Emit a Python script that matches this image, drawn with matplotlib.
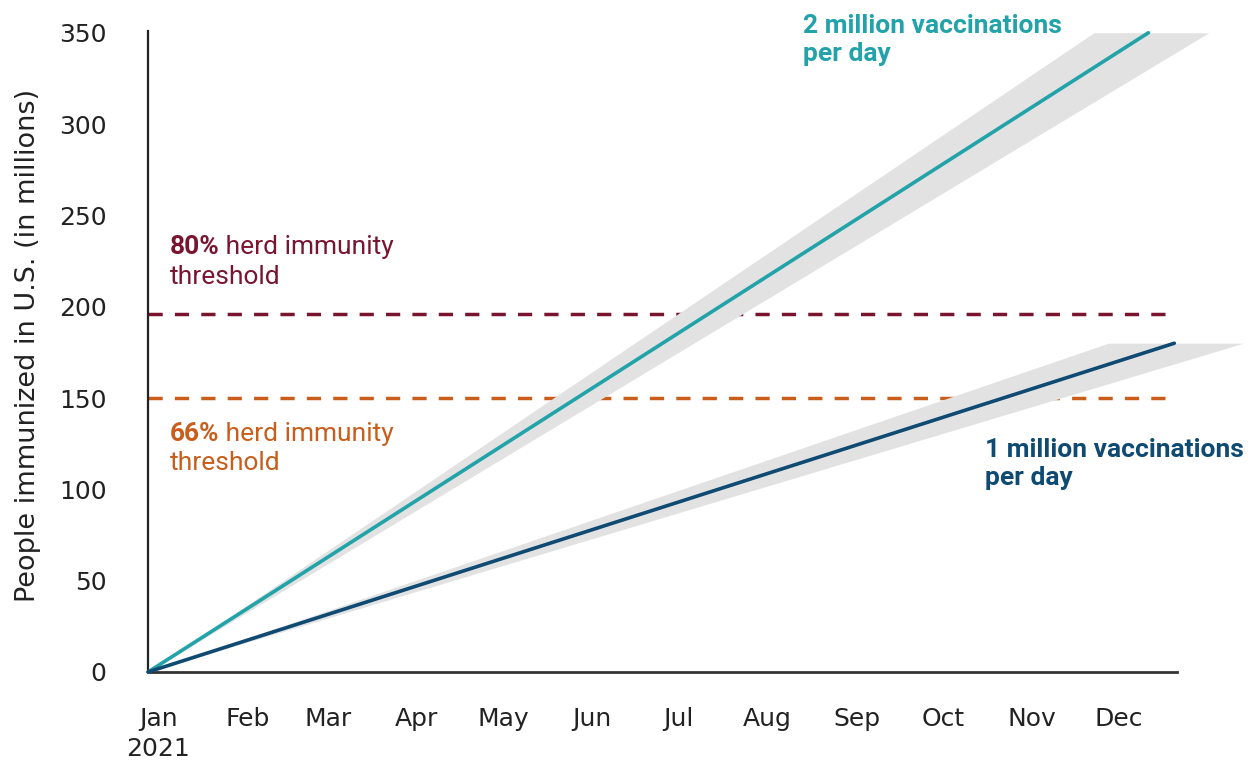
import numpy as np
import matplotlib.pyplot as plt

# days since Jan 1 2021 vs people immunized (millions)
days_2m = [0, 348]
people_2m = [0, 350]
band_2m_lo = [0, 329]
band_2m_hi = [0, 369]

days_1m = [0, 357]
people_1m = [0, 180]
band_1m_lo = [0, 334]
band_1m_hi = [0, 381]

threshold_80 = 196
threshold_66 = 150

months = ['Jan\n2021', 'Feb', 'Mar', 'Apr', 'May', 'Jun',
          'Jul', 'Aug', 'Sep', 'Oct', 'Nov', 'Dec']
month_start = [0, 31, 59, 90, 120, 151, 181, 212, 243, 273, 304, 334]

teal = '#22a2a9'
navy = '#0f4a73'
maroon = '#7a1530'
orange = '#c95e1c'
band = '#e2e2e2'

narrow = ['Roboto', 'DejaVu Sans']
plt.rcParams['font.family'] = ['DejaVu Sans']

fig = plt.figure(figsize=(12.55, 7.65), dpi=100)
ax = fig.add_axes([0.118, 0.1216, 0.820, 0.838])

ax.axhline(threshold_80, color=maroon, lw=2.5, dashes=(4.1, 3.5), zorder=1)
ax.axhline(threshold_66, color=orange, lw=2.5, dashes=(4.1, 3.5), zorder=1)

ax.fill_betweenx(people_2m, band_2m_lo, band_2m_hi, color=band, lw=0,
                 zorder=2, clip_on=False)
ax.fill_betweenx(people_1m, band_1m_lo, band_1m_hi, color=band, lw=0,
                 zorder=2, clip_on=False)

ax.plot(days_2m, people_2m, color=teal, lw=2.6, zorder=3, clip_on=False,
        solid_capstyle='round')
ax.plot(days_1m, people_1m, color=navy, lw=2.6, zorder=3, clip_on=False,
        solid_capstyle='round')

ax.set_xlim(0, 358)
ax.set_ylim(0, 351)
ax.set_yticks([0, 50, 100, 150, 200, 250, 300, 350])
ax.set_xticks(np.array(month_start) + 3.5)
ax.set_xticklabels(months)
ax.tick_params(axis='both', length=0, labelsize=18, colors='#222222')
ax.tick_params(axis='y', pad=30)
ax.tick_params(axis='x', pad=25)
for lbl in ax.get_xticklabels():
    lbl.set_linespacing(1.35)
    lbl.set_verticalalignment('top')

for s in ['top', 'right']:
    ax.spines[s].set_visible(False)
ax.spines['left'].set_linewidth(1.6)
ax.spines['bottom'].set_linewidth(2.0)
ax.spines['left'].set_color('#222222')
ax.spines['bottom'].set_color('#333333')

ax.set_ylabel('People immunized in U.S. (in millions)', fontsize=19.5,
              color='#222222')
ax.yaxis.set_label_coords(-0.104, 0.51)

# series labels
ax.text(228, 360, '2 million vaccinations\nper day', color=teal, fontsize=19,
        fontweight='bold', family=narrow, va='top', ha='left',
        linespacing=1.2, clip_on=False)
ax.text(291, 128, '1 million vaccinations\nper day', color=navy, fontsize=19,
        fontweight='bold', family=narrow, va='top', ha='left',
        linespacing=1.2)

# threshold labels
for val, y, col in [('80%', 239, maroon), ('66%', 137, orange)]:
    t = ax.text(7.5, y, val, color=col, fontsize=19, fontweight='bold',
                family=narrow, va='top', ha='left')
    ax.annotate(' herd immunity', xy=(1, 0), xycoords=t, color=col,
                fontsize=19, family=narrow, va='bottom', ha='left')
    ax.annotate('threshold', xy=(0, 0), xycoords=t, xytext=(0, -4),
                textcoords='offset points', color=col, fontsize=19,
                family=narrow, va='top', ha='left')

fig.savefig('out.png', dpi=100)
